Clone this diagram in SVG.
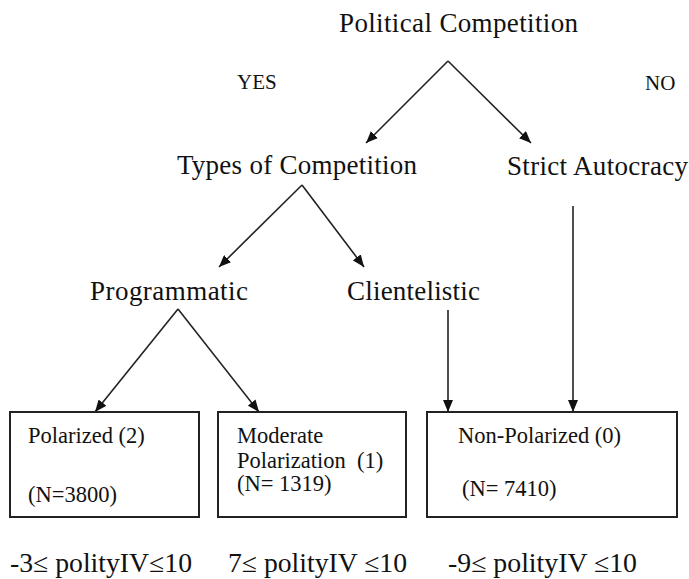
<svg xmlns="http://www.w3.org/2000/svg" width="689" height="579" viewBox="0 0 689 579">
<style>
text{font-family:"Liberation Serif","Times New Roman",serif;fill:#111}
.big{font-size:27px}
.sm{font-size:21px}
.box{font-size:22.5px}
.bot{font-size:26.5px}
.c{stroke:#222;stroke-width:1.6;fill:none}
rect{fill:#fff;stroke:#222;stroke-width:2}
</style>
<defs>
<marker id="ah" viewBox="0 0 12 10" refX="12" refY="5" markerWidth="12" markerHeight="10" markerUnits="userSpaceOnUse" orient="auto">
<path d="M0,0 L12,5 L0,10 Z" fill="#111"/>
</marker>
</defs>
<rect width="689" height="579" style="fill:#fff;stroke:none"/>
<g id="connectors">
<line class="c" x1="448" y1="61" x2="366" y2="143" marker-end="url(#ah)"/>
<line class="c" x1="448" y1="61" x2="531" y2="143" marker-end="url(#ah)"/>
<line class="c" x1="302" y1="185" x2="219" y2="267" marker-end="url(#ah)"/>
<line class="c" x1="302" y1="185" x2="364" y2="267" marker-end="url(#ah)"/>
<line class="c" x1="178" y1="309" x2="95" y2="412" marker-end="url(#ah)"/>
<line class="c" x1="178" y1="309" x2="259" y2="412" marker-end="url(#ah)"/>
<line class="c" x1="448" y1="310" x2="448" y2="412" marker-end="url(#ah)"/>
<line class="c" x1="573" y1="206" x2="573" y2="412" marker-end="url(#ah)"/>
</g>
<g id="political-competition"><text class="big" x="339" y="32" textLength="239">Political Competition</text></g>
<g id="yes"><text class="sm" x="237" y="89">YES</text></g>
<g id="no"><text class="sm" x="645" y="90">NO</text></g>
<g id="types-of-competition"><text class="big" x="177" y="174" textLength="240">Types of Competition</text></g>
<g id="strict-autocracy"><text class="big" x="507" y="175" textLength="181">Strict Autocracy</text></g>
<g id="programmatic"><text class="big" x="90" y="300" textLength="158">Programmatic</text></g>
<g id="clientelistic"><text class="big" x="347" y="300" textLength="133">Clientelistic</text></g>
<g id="polarized">
<rect x="10" y="412" width="189" height="105"/>
<text class="box" x="28" y="443">Polarized (2)</text>
<text class="box" x="28" y="502">(N=3800)</text>
</g>
<g id="moderate">
<rect x="218" y="412" width="188" height="105"/>
<text class="box" x="237" y="443">Moderate</text>
<text class="box" x="237" y="468" xml:space="preserve">Polarization  (1)</text>
<text class="box" x="237" y="491">(N= 1319)</text>
</g>
<g id="non-polarized">
<rect x="427" y="412" width="250" height="105"/>
<text class="box" x="458" y="443">Non-Polarized (0)</text>
<text class="box" x="462" y="496">(N= 7410)</text>
</g>
<g id="ranges">
<text class="bot" x="10" y="572" textLength="182" lengthAdjust="spacingAndGlyphs">-3≤ polityIV≤10</text>
<text class="bot" x="228" y="572" textLength="179" lengthAdjust="spacingAndGlyphs">7≤ polityIV ≤10</text>
<text class="bot" x="448" y="572" textLength="189" lengthAdjust="spacingAndGlyphs">-9≤ polityIV ≤10</text>
</g>
</svg>
